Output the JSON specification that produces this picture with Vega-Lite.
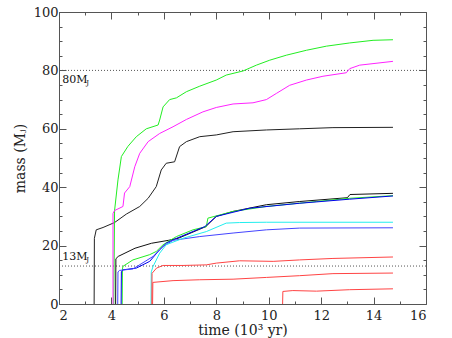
{
  "$schema": "https://vega.github.io/schema/vega-lite/v6.json",
  "width": 367,
  "height": 292,
  "autosize": {"type": "none"},
  "padding": {"left": 59, "top": 12, "right": 26, "bottom": 34},
  "background": "white",
  "datasets": {
    "curves": [
      {"s": "k1", "t": 3.34, "m": 0}, {"s": "k1", "t": 3.35, "m": 22.5}, {"s": "k1", "t": 3.42, "m": 25.4}, {"s": "k1", "t": 3.68, "m": 26.2}, {"s": "k1", "t": 4.12, "m": 27.9}, {"s": "k1", "t": 4.57, "m": 30.8}, {"s": "k1", "t": 5.08, "m": 33.4}, {"s": "k1", "t": 5.4, "m": 36.2}, {"s": "k1", "t": 5.71, "m": 40.2}, {"s": "k1", "t": 5.9, "m": 45.9}, {"s": "k1", "t": 6.09, "m": 48.2}, {"s": "k1", "t": 6.41, "m": 48.7}, {"s": "k1", "t": 6.6, "m": 53.9}, {"s": "k1", "t": 6.86, "m": 55.6}, {"s": "k1", "t": 7.37, "m": 57.3}, {"s": "k1", "t": 8.0, "m": 57.9}, {"s": "k1", "t": 8.64, "m": 59.0}, {"s": "k1", "t": 9.91, "m": 59.6}, {"s": "k1", "t": 11.18, "m": 60.0}, {"s": "k1", "t": 12.45, "m": 60.4}, {"s": "k1", "t": 14.74, "m": 60.5},
      {"s": "g1", "t": 4.09, "m": 0}, {"s": "g1", "t": 4.12, "m": 32}, {"s": "g1", "t": 4.25, "m": 42.5}, {"s": "g1", "t": 4.38, "m": 50.5}, {"s": "g1", "t": 4.63, "m": 54}, {"s": "g1", "t": 4.95, "m": 57.3}, {"s": "g1", "t": 5.33, "m": 60}, {"s": "g1", "t": 5.78, "m": 61.3}, {"s": "g1", "t": 5.84, "m": 63}, {"s": "g1", "t": 5.97, "m": 67.5}, {"s": "g1", "t": 6.22, "m": 70}, {"s": "g1", "t": 6.48, "m": 70.6}, {"s": "g1", "t": 6.86, "m": 72.7}, {"s": "g1", "t": 7.37, "m": 74.6}, {"s": "g1", "t": 8.0, "m": 76.7}, {"s": "g1", "t": 8.38, "m": 78.4}, {"s": "g1", "t": 9.02, "m": 79.8}, {"s": "g1", "t": 9.53, "m": 81.8}, {"s": "g1", "t": 10.04, "m": 83.5}, {"s": "g1", "t": 10.67, "m": 85.2}, {"s": "g1", "t": 11.44, "m": 86.9}, {"s": "g1", "t": 12.2, "m": 88.3}, {"s": "g1", "t": 13.09, "m": 89.4}, {"s": "g1", "t": 13.98, "m": 90.3}, {"s": "g1", "t": 14.74, "m": 90.5},
      {"s": "m1", "t": 4.06, "m": 0}, {"s": "m1", "t": 4.06, "m": 31}, {"s": "m1", "t": 4.12, "m": 32}, {"s": "m1", "t": 4.44, "m": 33.4}, {"s": "m1", "t": 4.5, "m": 38}, {"s": "m1", "t": 4.7, "m": 40.2}, {"s": "m1", "t": 4.89, "m": 47}, {"s": "m1", "t": 5.08, "m": 51.6}, {"s": "m1", "t": 5.4, "m": 55.6}, {"s": "m1", "t": 5.84, "m": 58.4}, {"s": "m1", "t": 6.35, "m": 60.7}, {"s": "m1", "t": 6.86, "m": 63.2}, {"s": "m1", "t": 7.49, "m": 65.8}, {"s": "m1", "t": 8.0, "m": 67.3}, {"s": "m1", "t": 8.64, "m": 68.5}, {"s": "m1", "t": 9.4, "m": 68.9}, {"s": "m1", "t": 9.91, "m": 70}, {"s": "m1", "t": 10.29, "m": 72.1}, {"s": "m1", "t": 10.8, "m": 74.9}, {"s": "m1", "t": 11.44, "m": 76.7}, {"s": "m1", "t": 12.07, "m": 78}, {"s": "m1", "t": 12.96, "m": 79.2}, {"s": "m1", "t": 13.09, "m": 80.6}, {"s": "m1", "t": 13.47, "m": 81.8}, {"s": "m1", "t": 14.74, "m": 83.1},
      {"s": "k2", "t": 4.16, "m": 0}, {"s": "k2", "t": 4.17, "m": 15.5}, {"s": "k2", "t": 4.26, "m": 16.3}, {"s": "k2", "t": 4.9, "m": 19.1}, {"s": "k2", "t": 5.53, "m": 20.8}, {"s": "k2", "t": 6.17, "m": 21.8}, {"s": "k2", "t": 6.55, "m": 22.5}, {"s": "k2", "t": 7.6, "m": 26.5}, {"s": "k2", "t": 8.0, "m": 30}, {"s": "k2", "t": 8.64, "m": 31.7}, {"s": "k2", "t": 9.91, "m": 34}, {"s": "k2", "t": 11.18, "m": 35.1}, {"s": "k2", "t": 13.0, "m": 36.4}, {"s": "k2", "t": 13.1, "m": 37.5}, {"s": "k2", "t": 14.74, "m": 37.9},
      {"s": "g2", "t": 4.41, "m": 0}, {"s": "g2", "t": 4.42, "m": 12}, {"s": "g2", "t": 4.44, "m": 12.9}, {"s": "g2", "t": 4.82, "m": 15.1}, {"s": "g2", "t": 5.46, "m": 16.9}, {"s": "g2", "t": 5.71, "m": 18}, {"s": "g2", "t": 5.97, "m": 20.3}, {"s": "g2", "t": 6.48, "m": 23.1}, {"s": "g2", "t": 7.11, "m": 25.4}, {"s": "g2", "t": 7.62, "m": 26.5}, {"s": "g2", "t": 7.68, "m": 29.4}, {"s": "g2", "t": 8.64, "m": 31.7}, {"s": "g2", "t": 9.91, "m": 33.4}, {"s": "g2", "t": 11.82, "m": 35.1}, {"s": "g2", "t": 13.09, "m": 36.2}, {"s": "g2", "t": 14.74, "m": 37.1},
      {"s": "b1", "t": 4.37, "m": 0}, {"s": "b1", "t": 4.38, "m": 11}, {"s": "b1", "t": 4.44, "m": 11.7}, {"s": "b1", "t": 4.95, "m": 12.3}, {"s": "b1", "t": 5.46, "m": 14.6}, {"s": "b1", "t": 5.84, "m": 18.6}, {"s": "b1", "t": 6.09, "m": 20.8}, {"s": "b1", "t": 6.48, "m": 22.5}, {"s": "b1", "t": 7.56, "m": 26.5}, {"s": "b1", "t": 8.0, "m": 30}, {"s": "b1", "t": 9.27, "m": 32.8}, {"s": "b1", "t": 11.18, "m": 34.5}, {"s": "b1", "t": 13.09, "m": 35.9}, {"s": "b1", "t": 14.74, "m": 37},
      {"s": "b2", "t": 4.24, "m": 0}, {"s": "b2", "t": 4.25, "m": 11}, {"s": "b2", "t": 4.31, "m": 11.5}, {"s": "b2", "t": 4.82, "m": 12}, {"s": "b2", "t": 5.59, "m": 16.3}, {"s": "b2", "t": 5.97, "m": 19.7}, {"s": "b2", "t": 6.35, "m": 21.8}, {"s": "b2", "t": 7.37, "m": 23.1}, {"s": "b2", "t": 8.64, "m": 24.3}, {"s": "b2", "t": 9.91, "m": 25.4}, {"s": "b2", "t": 11.18, "m": 26}, {"s": "b2", "t": 14.74, "m": 26.1},
      {"s": "c1", "t": 5.51, "m": 0}, {"s": "c1", "t": 5.52, "m": 11}, {"s": "c1", "t": 5.59, "m": 12.9}, {"s": "c1", "t": 5.84, "m": 17.4}, {"s": "c1", "t": 6.09, "m": 20.3}, {"s": "c1", "t": 6.73, "m": 22.5}, {"s": "c1", "t": 7.62, "m": 24.8}, {"s": "c1", "t": 8.38, "m": 27.7}, {"s": "c1", "t": 8.89, "m": 27.9}, {"s": "c1", "t": 9.91, "m": 28}, {"s": "c1", "t": 14.74, "m": 28},
      {"s": "r1", "t": 5.54, "m": 0}, {"s": "r1", "t": 5.55, "m": 10.5}, {"s": "r1", "t": 5.72, "m": 12.3}, {"s": "r1", "t": 5.97, "m": 13.2}, {"s": "r1", "t": 6.73, "m": 13.2}, {"s": "r1", "t": 7.62, "m": 13.4}, {"s": "r1", "t": 8.0, "m": 14}, {"s": "r1", "t": 8.89, "m": 14.8}, {"s": "r1", "t": 10.17, "m": 14.6}, {"s": "r1", "t": 11.18, "m": 15.1}, {"s": "r1", "t": 12.45, "m": 15.6}, {"s": "r1", "t": 14.74, "m": 16.1},
      {"s": "r2", "t": 5.57, "m": 0}, {"s": "r2", "t": 5.58, "m": 7.4}, {"s": "r2", "t": 6.35, "m": 8}, {"s": "r2", "t": 7.37, "m": 8.3}, {"s": "r2", "t": 8.64, "m": 8.5}, {"s": "r2", "t": 9.91, "m": 9.1}, {"s": "r2", "t": 11.18, "m": 9.7}, {"s": "r2", "t": 12.45, "m": 10.4}, {"s": "r2", "t": 14.74, "m": 10.6},
      {"s": "r3", "t": 10.53, "m": 0}, {"s": "r3", "t": 10.54, "m": 4.3}, {"s": "r3", "t": 10.92, "m": 4.6}, {"s": "r3", "t": 11.82, "m": 4.4}, {"s": "r3", "t": 13.09, "m": 4.9}, {"s": "r3", "t": 14.74, "m": 5.2}
    ],
    "limits": [
      {"m": 80, "label": "80M", "t": 2.12, "lm": 76.8},
      {"m": 13, "label": "13M", "t": 2.12, "lm": 16}
    ]
  },
  "layer": [
    {
      "data": {"name": "limits"},
      "mark": {"type": "rule", "color": "#555", "strokeWidth": 1, "strokeDash": [1, 2]},
      "encoding": {
        "y": {"field": "m", "type": "quantitative",
          "scale": {"domain": [0, 100], "nice": false, "zero": false},
          "axis": {"orient": "right", "labels": false, "title": null,
            "values": [0,5,10,15,20,25,30,35,40,45,50,55,60,65,70,75,80,85,90,95,100],
            "tickSize": {"condition": {"test": "datum.value % 20 === 0", "value": -7}, "value": -3}}}
      }
    },
    {
      "data": {"name": "curves"},
      "mark": {"type": "line", "strokeWidth": 1, "interpolate": "linear"},
      "encoding": {
        "x": {"field": "t", "type": "quantitative",
          "scale": {"domain": [2, 16], "nice": false, "zero": false},
          "axis": {"orient": "bottom", "title": "time (10³ yr)",
            "values": [2,3,4,5,6,7,8,9,10,11,12,13,14,15,16],
            "labelExpr": "datum.value % 2 === 0 ? datum.label : ''",
            "labelPadding": 12, "titlePadding": 1,
            "tickSize": {"condition": {"test": "datum.value % 2 === 0", "value": -7}, "value": -3}}},
        "y": {"field": "m", "type": "quantitative",
          "scale": {"domain": [0, 100], "nice": false, "zero": false},
          "axis": {"orient": "left", "title": "mass (Mⱼ)",
            "values": [0,5,10,15,20,25,30,35,40,45,50,55,60,65,70,75,80,85,90,95,100],
            "labelExpr": "datum.value % 20 === 0 ? datum.label : ''",
            "labelPadding": 8, "titlePadding": 6,
            "tickSize": {"condition": {"test": "datum.value % 20 === 0", "value": -7}, "value": -3}}},
        "color": {"field": "s", "type": "nominal", "legend": null,
          "scale": {"domain": ["k1","g1","m1","k2","g2","b1","b2","c1","r1","r2","r3"],
            "range": ["#222222","#22ee22","#ff22ff","#111111","#22ee22","#0000ee","#4444ff","#22eeee","#ff4444","#ff4444","#ff4444"]}},
        "detail": {"field": "s"},
        "order": {"value": null}
      }
    },
    {
      "data": {"name": "limits"},
      "mark": {"type": "text", "align": "left", "baseline": "middle", "font": "DejaVu Serif", "fontSize": 11, "color": "#111"},
      "encoding": {
        "x": {"field": "t", "type": "quantitative",
          "scale": {"domain": [2, 16], "nice": false, "zero": false},
          "axis": {"orient": "top", "labels": false, "title": null,
            "values": [2,3,4,5,6,7,8,9,10,11,12,13,14,15,16],
            "tickSize": {"condition": {"test": "datum.value % 2 === 0", "value": -7}, "value": -3}}},
        "y": {"field": "lm", "type": "quantitative", "scale": {"domain": [0, 100], "nice": false, "zero": false}, "axis": null},
        "text": {"field": "label"}
      }
    },
    {
      "data": {"name": "limits"},
      "mark": {"type": "text", "align": "left", "baseline": "middle", "font": "DejaVu Serif", "fontSize": 7, "color": "#111", "dx": 24, "dy": 3},
      "encoding": {
        "x": {"field": "t", "type": "quantitative", "scale": {"domain": [2, 16], "nice": false, "zero": false}, "axis": null},
        "y": {"field": "lm", "type": "quantitative", "scale": {"domain": [0, 100], "nice": false, "zero": false}, "axis": null},
        "text": {"value": "J"}
      }
    }
  ],
  "resolve": {"axis": {"x": "independent", "y": "independent"}},
  "config": {
    "view": {"stroke": "#555", "strokeWidth": 1},
    "axis": {"grid": false, "domain": false, "tickColor": "#555", "tickWidth": 1,
      "labelFont": "DejaVu Serif", "labelFontSize": 13, "labelColor": "#222",
      "titleFont": "DejaVu Serif", "titleFontSize": 14, "titleFontWeight": "normal", "titleColor": "#222"}
  }
}
